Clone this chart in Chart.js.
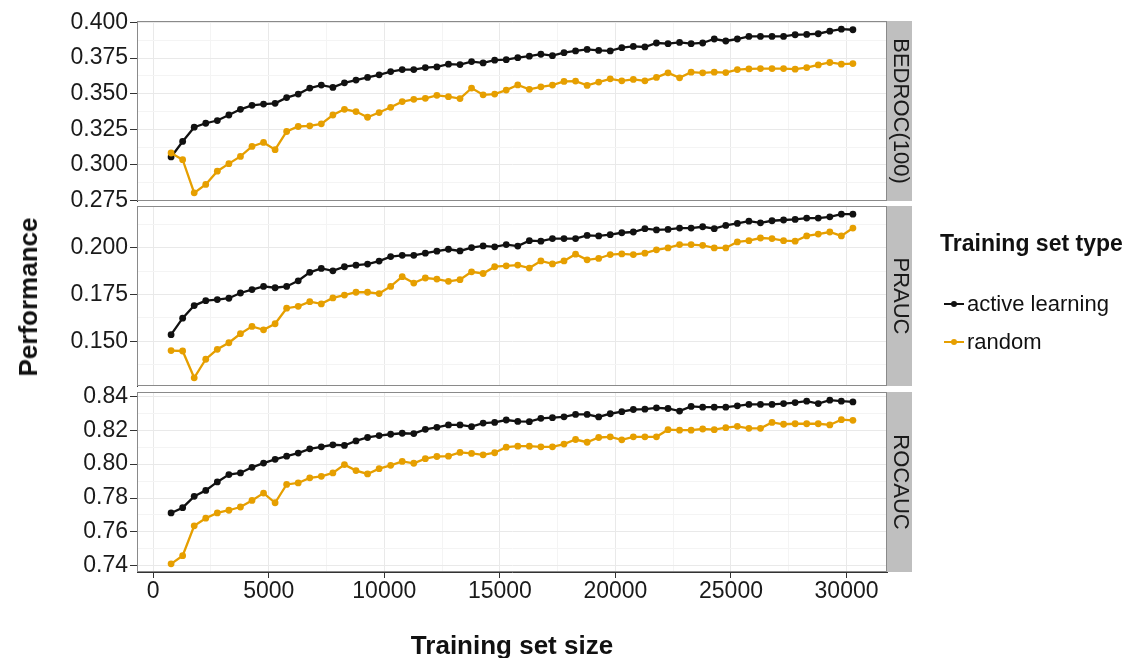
<!DOCTYPE html>
<html>
<head>
<meta charset="utf-8">
<script src="https://cdn.jsdelivr.net/npm/chart.js@4.4.1/dist/chart.umd.min.js"></script>
<style>
    html, body { margin: 0; padding: 0; background: #fff; }
    #wrap { position: relative; width: 1137px; height: 658px; overflow: hidden;
            font-family: 'Liberation Sans', Arial, sans-serif; color: #111; }
    #wrap canvas { position: absolute; left: 0; top: 0; }
    .ytitle { position: absolute; left: 28px; top: 297px; font-weight: bold; font-size: 26px; line-height: 26px;
              white-space: nowrap; transform: translate(-50%, -50%) rotate(-90deg); }
    .xtitle { position: absolute; left: 512px; top: 645px; font-weight: bold; font-size: 26px; line-height: 26px;
              white-space: nowrap; transform: translate(-50%, -50%); }
    .legend { position: absolute; left: 940px; top: 230px; }
    .legend .ltitle { font-weight: bold; font-size: 23px; line-height: 26px; white-space: nowrap; margin-bottom: 29px; }
    .legend .litem { position: relative; height: 38px; line-height: 38px; font-size: 22px; padding-left: 27px; white-space: nowrap; }
    .legend .key { position: absolute; left: 4px; top: 18px; width: 20px; height: 2px; }
    .legend .dot { position: absolute; left: 7px; top: -2px; width: 6px; height: 6px; border-radius: 3px; }
</style>
</head>
<body>
<div id="wrap">
    <canvas id="panel_bedroc" width="1137" height="658"></canvas>
    <canvas id="panel_prauc" width="1137" height="658"></canvas>
    <canvas id="panel_rocauc" width="1137" height="658"></canvas>
    <div class="ytitle">Performance</div>
    <div class="xtitle">Training set size</div>
    <div class="legend" id="legend"><div class="ltitle">Training set type</div></div>
</div>
<script>
// training set sizes (x)
const trainingSize = [
    775, 1275, 1775, 2275, 2775, 3275, 3775, 4275, 4775, 5275,
    5775, 6275, 6775, 7275, 7775, 8275, 8775, 9275, 9775, 10275,
    10775, 11275, 11775, 12275, 12775, 13275, 13775, 14275, 14775, 15275,
    15775, 16275, 16775, 17275, 17775, 18275, 18775, 19275, 19775, 20275,
    20775, 21275, 21775, 22275, 22775, 23275, 23775, 24275, 24775, 25275,
    25775, 26275, 26775, 27275, 27775, 28275, 28775, 29275, 29775, 30275
];

const seriesNames = ['active learning', 'random'];

const bedrocActive = [
    0.3055, 0.3164, 0.3264, 0.3292, 0.3311, 0.3350, 0.3390, 0.3418, 0.3427, 0.3432,
    0.3472, 0.3497, 0.3539, 0.3560, 0.3544, 0.3576, 0.3595, 0.3614, 0.3632, 0.3655,
    0.3669, 0.3669, 0.3683, 0.3688, 0.3707, 0.3704, 0.3725, 0.3716, 0.3735, 0.3739,
    0.3753, 0.3763, 0.3777, 0.3767, 0.3788, 0.3800, 0.3811, 0.3804, 0.3800, 0.3823,
    0.3832, 0.3828, 0.3856, 0.3851, 0.3860, 0.3851, 0.3856, 0.3884, 0.3870, 0.3884,
    0.3902, 0.3902, 0.3902, 0.3902, 0.3914, 0.3916, 0.3921, 0.3939, 0.3953, 0.3949
];
const bedrocRandom = [
    0.3083, 0.3036, 0.2803, 0.2862, 0.2955, 0.3008, 0.3059, 0.3129, 0.3157, 0.3106,
    0.3234, 0.3269, 0.3274, 0.3288, 0.3350, 0.3390, 0.3374, 0.3334, 0.3367, 0.3404,
    0.3444, 0.3460, 0.3467, 0.3488, 0.3479, 0.3465, 0.3539, 0.3492, 0.3497, 0.3525,
    0.3561, 0.3530, 0.3548, 0.3560, 0.3586, 0.3588, 0.3558, 0.3581, 0.3604, 0.3590,
    0.3600, 0.3590, 0.3614, 0.3646, 0.3611, 0.3651, 0.3646, 0.3651, 0.3648, 0.3669,
    0.3674, 0.3676, 0.3676, 0.3676, 0.3672, 0.3683, 0.3702, 0.3719, 0.3707, 0.3711
];

const praucActive = [
    0.1536, 0.1624, 0.1691, 0.1717, 0.1723, 0.1730, 0.1758, 0.1776, 0.1793, 0.1786,
    0.1793, 0.1823, 0.1868, 0.1889, 0.1876, 0.1898, 0.1906, 0.1912, 0.1928, 0.1952,
    0.1959, 0.1959, 0.1970, 0.1981, 0.1991, 0.1982, 0.2000, 0.2009, 0.2004, 0.2016,
    0.2008, 0.2037, 0.2034, 0.2048, 0.2048, 0.2048, 0.2065, 0.2062, 0.2069, 0.2079,
    0.2083, 0.2101, 0.2094, 0.2097, 0.2104, 0.2104, 0.2111, 0.2101, 0.2118, 0.2129,
    0.2141, 0.2132, 0.2143, 0.2147, 0.2150, 0.2157, 0.2157, 0.2164, 0.2178, 0.2178
];
const praucRandom = [
    0.1451, 0.1449, 0.1306, 0.1405, 0.1458, 0.1493, 0.1541, 0.1580, 0.1562, 0.1594,
    0.1677, 0.1687, 0.1712, 0.1700, 0.1732, 0.1747, 0.1762, 0.1762, 0.1755, 0.1793,
    0.1845, 0.1811, 0.1838, 0.1832, 0.1820, 0.1829, 0.1871, 0.1862, 0.1898, 0.1903,
    0.1907, 0.1891, 0.1929, 0.1913, 0.1929, 0.1965, 0.1935, 0.1942, 0.1963, 0.1966,
    0.1963, 0.1970, 0.1988, 0.1998, 0.2016, 0.2016, 0.2012, 0.1998, 0.1998, 0.2030,
    0.2037, 0.2051, 0.2048, 0.2037, 0.2034, 0.2062, 0.2072, 0.2083, 0.2062, 0.2104
];

const rocaucActive = [
    0.7712, 0.7743, 0.7810, 0.7845, 0.7895, 0.7938, 0.7948, 0.7981, 0.8006, 0.8028,
    0.8047, 0.8065, 0.8090, 0.8102, 0.8114, 0.8110, 0.8137, 0.8157, 0.8168, 0.8176,
    0.8182, 0.8180, 0.8205, 0.8217, 0.8231, 0.8231, 0.8221, 0.8242, 0.8246, 0.8260,
    0.8252, 0.8250, 0.8270, 0.8274, 0.8279, 0.8293, 0.8293, 0.8278, 0.8297, 0.8309,
    0.8322, 0.8324, 0.8332, 0.8328, 0.8313, 0.8340, 0.8336, 0.8336, 0.8336, 0.8344,
    0.8352, 0.8352, 0.8352, 0.8357, 0.8363, 0.8371, 0.8357, 0.8377, 0.8371, 0.8367
];
const rocaucRandom = [
    0.7412, 0.7460, 0.7636, 0.7681, 0.7712, 0.7728, 0.7747, 0.7786, 0.7829, 0.7772,
    0.7880, 0.7889, 0.7919, 0.7928, 0.7948, 0.7997, 0.7962, 0.7942, 0.7973, 0.7993,
    0.8016, 0.8005, 0.8032, 0.8045, 0.8047, 0.8069, 0.8063, 0.8055, 0.8067, 0.8100,
    0.8106, 0.8106, 0.8102, 0.8102, 0.8118, 0.8145, 0.8129, 0.8157, 0.8161, 0.8143,
    0.8161, 0.8161, 0.8161, 0.8203, 0.8200, 0.8200, 0.8207, 0.8203, 0.8215, 0.8223,
    0.8211, 0.8211, 0.8246, 0.8235, 0.8238, 0.8238, 0.8238, 0.8231, 0.8262, 0.8258
];

// tick labels
const sizeTicks = [0, 5000, 10000, 15000, 20000, 25000, 30000];
const bedrocTicks = [0.275, 0.300, 0.325, 0.350, 0.375, 0.400];
const praucTicks = [0.150, 0.175, 0.200];
const rocaucTicks = [0.74, 0.76, 0.78, 0.80, 0.82, 0.84];

const BLACK = '#111111';
const ORANGE = '#E69F00';
const AXIS = '#333333';
const GRID_MAJOR = '#e9e9e9';
const GRID_MINOR = '#f4f4f4';
const FONT = "'Liberation Sans', Arial, sans-serif";
const X_AXIS_H = 40;

// ggplot style 5% expansion
let expand = function (values) {
    let lo = Math.min.apply(null, values);
    let hi = Math.max.apply(null, values);
    let pad = (hi - lo) * 0.05;
    return [lo - pad, hi + pad];
};

let withMinor = function (majors) {
    return function (scale) {
        let step = majors[1] - majors[0];
        let ticks = majors.map(v => ({ value: v }));
        let mids = [majors[0] - step / 2].concat(majors.map(v => v + step / 2));
        mids.forEach(v => { if (v >= scale.min && v <= scale.max) ticks.push({ value: v, minor: true }); });
        ticks.sort((a, b) => a.value - b.value);
        scale.ticks = ticks;
    };
};

let gridColor = c => (c.tick && c.tick.minor ? GRID_MINOR : GRID_MAJOR);
let tickColor = c => (c.tick && c.tick.minor ? 'rgba(0,0,0,0)' : AXIS);

// grey strip on the right + panel border
const facetStrip = {
    id: 'facetStrip',
    afterDraw(chart, args, opts) {
        const ctx = chart.ctx;
        const a = chart.chartArea;
        ctx.save();
        ctx.strokeStyle = '#8a8a8a';
        ctx.lineWidth = 1;
        ctx.strokeRect(a.left + 0.5, a.top + 0.5, a.right - a.left - 1, a.bottom - a.top - 1);
        ctx.fillStyle = '#bfbfbf';
        ctx.fillRect(a.right, a.top, 25, a.bottom - a.top);
        ctx.translate(a.right + 13, (a.top + a.bottom) / 2);
        ctx.rotate(Math.PI / 2);
        ctx.fillStyle = '#1a1a1a';
        ctx.font = '22px ' + FONT;
        ctx.textAlign = 'center';
        ctx.textBaseline = 'middle';
        ctx.fillText(opts.label, 0, 0);
        ctx.restore();
    }
};

let makePanel = function (id, label, active, random, yTicks, digits, top, bottom, showX) {
    let xLim = expand(trainingSize);
    let yLim = expand(active.concat(random));
    let toPoints = vals => vals.map((v, i) => ({ x: trainingSize[i], y: v }));

    return new Chart(document.getElementById(id), {
        type: 'line',
        data: {
            datasets: [{
                    label: seriesNames[1],
                    data: toPoints(random),
                    borderColor: ORANGE,
                    backgroundColor: ORANGE,
                    order: 0
                },
                {
                    label: seriesNames[0],
                    data: toPoints(active),
                    borderColor: BLACK,
                    backgroundColor: BLACK,
                    order: 1
                }
            ]
        },
        options: {
            responsive: false,
            animation: false,
            events: [],
            layout: {
                padding: { left: 0, right: 250, top: top, bottom: 658 - bottom - (showX ? X_AXIS_H : 0) }
            },
            elements: {
                line: { borderWidth: 2.3, tension: 0 },
                point: { radius: 3.4, borderWidth: 0 }
            },
            plugins: {
                legend: { display: false },
                tooltip: { enabled: false },
                facetStrip: { label: label }
            },
            scales: {
                x: {
                    type: 'linear',
                    bounds: 'data',
                    min: xLim[0],
                    max: xLim[1],
                    afterBuildTicks: withMinor(sizeTicks),
                    afterFit: s => { s.height = showX ? X_AXIS_H : 0; s.paddingLeft = 0; s.paddingRight = 0; },
                    ticks: {
                        display: showX,
                        autoSkip: false,
                        maxRotation: 0,
                        padding: 0,
                        color: '#1a1a1a',
                        font: { family: FONT, size: 23 },
                        callback: (v, i, t) => (t[i].minor ? '' : String(v))
                    },
                    grid: { color: gridColor, lineWidth: 1, drawTicks: showX, tickLength: 6, tickColor: tickColor },
                    border: { display: showX, color: AXIS, width: 1 }
                },
                y: {
                    bounds: 'data',
                    min: yLim[0],
                    max: yLim[1],
                    afterBuildTicks: withMinor(yTicks),
                    afterFit: s => { s.width = 137; s.paddingTop = 0; s.paddingBottom = 0; },
                    ticks: {
                        autoSkip: false,
                        padding: 2,
                        color: '#1a1a1a',
                        font: { family: FONT, size: 23 },
                        callback: (v, i, t) => (t[i].minor ? '' : v.toFixed(digits))
                    },
                    grid: { color: gridColor, lineWidth: 1, tickLength: 7, tickColor: tickColor },
                    border: { display: true, color: AXIS, width: 1 }
                }
            }
        },
        plugins: [facetStrip]
    });
};

makePanel('panel_bedroc', 'BEDROC(100)', bedrocActive, bedrocRandom, bedrocTicks, 3, 21, 201, false);
makePanel('panel_prauc', 'PRAUC', praucActive, praucRandom, praucTicks, 3, 206, 386, false);
makePanel('panel_rocauc', 'ROCAUC', rocaucActive, rocaucRandom, rocaucTicks, 2, 392, 572, true);

// legend
let legend = document.getElementById('legend');
[[seriesNames[0], BLACK], [seriesNames[1], ORANGE]].forEach(function (item) {
    let row = document.createElement('div');
    row.className = 'litem';
    row.innerHTML = '<span class="key" style="background:' + item[1] + '"><span class="dot" style="background:' +
        item[1] + '"></span></span>' + item[0];
    legend.appendChild(row);
});
</script>
</body>
</html>
